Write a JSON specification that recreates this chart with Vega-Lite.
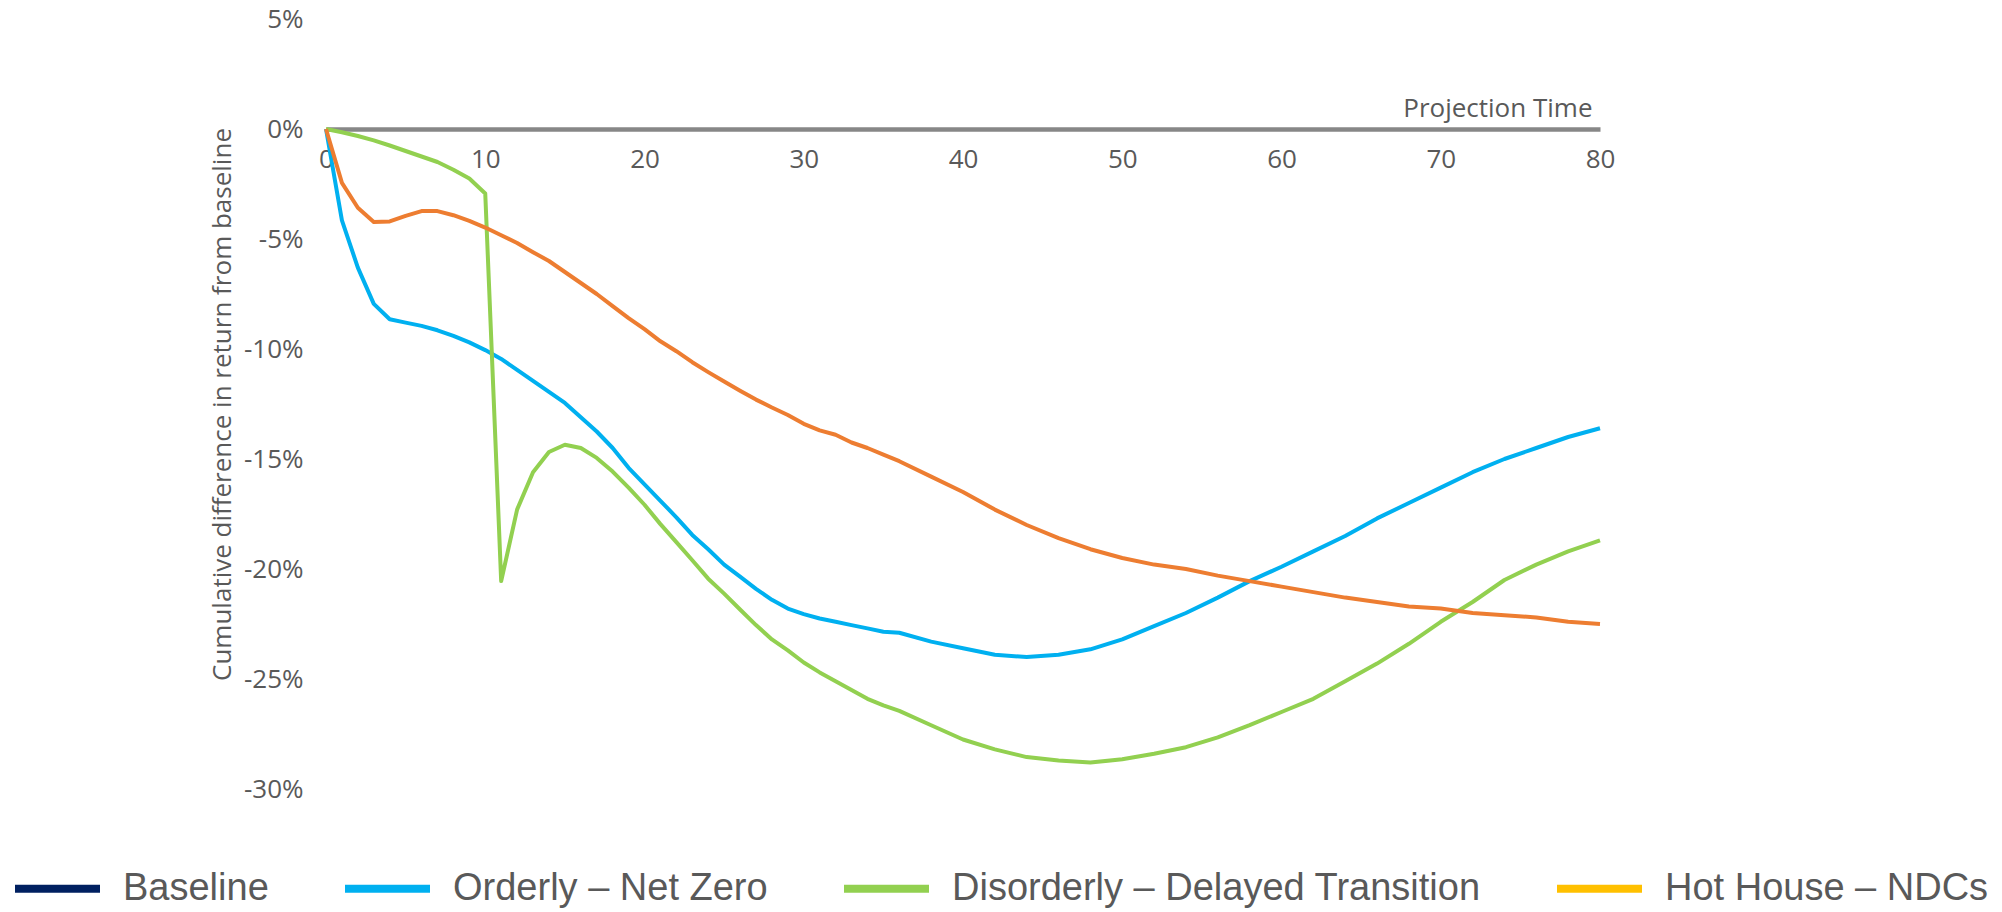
{
  "$schema": "https://vega.github.io/schema/vega-lite/v6.json",
  "width": 1274,
  "height": 770,
  "autosize": {"type": "none"},
  "padding": {"left": 326, "top": 19, "right": 402, "bottom": 123},
  "background": "#ffffff",
  "config": {
    "view": {"stroke": null},
    "font": "Open Sans",
    "axis": {"grid": false, "ticks": false, "labelColor": "#595959", "titleColor": "#595959", "labelFont": "Open Sans", "titleFont": "Open Sans", "labelFontSize": 26, "titleFontSize": 26, "titleFontWeight": "normal"}
  },
  "datasets": {
    "returns": [
      {"t": 0, "scenario": "Orderly – Net Zero", "value": 0},
      {"t": 1, "scenario": "Orderly – Net Zero", "value": -0.0415},
      {"t": 2, "scenario": "Orderly – Net Zero", "value": -0.063},
      {"t": 3, "scenario": "Orderly – Net Zero", "value": -0.0795},
      {"t": 4, "scenario": "Orderly – Net Zero", "value": -0.0865},
      {"t": 5, "scenario": "Orderly – Net Zero", "value": -0.088},
      {"t": 6, "scenario": "Orderly – Net Zero", "value": -0.0895},
      {"t": 7, "scenario": "Orderly – Net Zero", "value": -0.0915},
      {"t": 8, "scenario": "Orderly – Net Zero", "value": -0.094},
      {"t": 9, "scenario": "Orderly – Net Zero", "value": -0.097},
      {"t": 10, "scenario": "Orderly – Net Zero", "value": -0.1005},
      {"t": 11, "scenario": "Orderly – Net Zero", "value": -0.1045},
      {"t": 12, "scenario": "Orderly – Net Zero", "value": -0.1095},
      {"t": 13, "scenario": "Orderly – Net Zero", "value": -0.1145},
      {"t": 14, "scenario": "Orderly – Net Zero", "value": -0.1195},
      {"t": 15, "scenario": "Orderly – Net Zero", "value": -0.1245},
      {"t": 16, "scenario": "Orderly – Net Zero", "value": -0.131},
      {"t": 17, "scenario": "Orderly – Net Zero", "value": -0.1375},
      {"t": 18, "scenario": "Orderly – Net Zero", "value": -0.145},
      {"t": 19, "scenario": "Orderly – Net Zero", "value": -0.154},
      {"t": 20, "scenario": "Orderly – Net Zero", "value": -0.1615},
      {"t": 21, "scenario": "Orderly – Net Zero", "value": -0.169},
      {"t": 22, "scenario": "Orderly – Net Zero", "value": -0.1765},
      {"t": 23, "scenario": "Orderly – Net Zero", "value": -0.1845},
      {"t": 24, "scenario": "Orderly – Net Zero", "value": -0.191},
      {"t": 25, "scenario": "Orderly – Net Zero", "value": -0.198},
      {"t": 26, "scenario": "Orderly – Net Zero", "value": -0.2035},
      {"t": 27, "scenario": "Orderly – Net Zero", "value": -0.209},
      {"t": 28, "scenario": "Orderly – Net Zero", "value": -0.214},
      {"t": 29, "scenario": "Orderly – Net Zero", "value": -0.218},
      {"t": 30, "scenario": "Orderly – Net Zero", "value": -0.2205},
      {"t": 31, "scenario": "Orderly – Net Zero", "value": -0.2225},
      {"t": 32, "scenario": "Orderly – Net Zero", "value": -0.224},
      {"t": 33, "scenario": "Orderly – Net Zero", "value": -0.2255},
      {"t": 34, "scenario": "Orderly – Net Zero", "value": -0.227},
      {"t": 35, "scenario": "Orderly – Net Zero", "value": -0.2285},
      {"t": 36, "scenario": "Orderly – Net Zero", "value": -0.229},
      {"t": 38, "scenario": "Orderly – Net Zero", "value": -0.233},
      {"t": 40, "scenario": "Orderly – Net Zero", "value": -0.236},
      {"t": 42, "scenario": "Orderly – Net Zero", "value": -0.239},
      {"t": 44, "scenario": "Orderly – Net Zero", "value": -0.240},
      {"t": 46, "scenario": "Orderly – Net Zero", "value": -0.239},
      {"t": 48, "scenario": "Orderly – Net Zero", "value": -0.2365},
      {"t": 50, "scenario": "Orderly – Net Zero", "value": -0.232},
      {"t": 52, "scenario": "Orderly – Net Zero", "value": -0.226},
      {"t": 54, "scenario": "Orderly – Net Zero", "value": -0.220},
      {"t": 56, "scenario": "Orderly – Net Zero", "value": -0.213},
      {"t": 58, "scenario": "Orderly – Net Zero", "value": -0.2055},
      {"t": 60, "scenario": "Orderly – Net Zero", "value": -0.199},
      {"t": 62, "scenario": "Orderly – Net Zero", "value": -0.192},
      {"t": 64, "scenario": "Orderly – Net Zero", "value": -0.185},
      {"t": 66, "scenario": "Orderly – Net Zero", "value": -0.177},
      {"t": 68, "scenario": "Orderly – Net Zero", "value": -0.170},
      {"t": 70, "scenario": "Orderly – Net Zero", "value": -0.163},
      {"t": 72, "scenario": "Orderly – Net Zero", "value": -0.156},
      {"t": 74, "scenario": "Orderly – Net Zero", "value": -0.150},
      {"t": 76, "scenario": "Orderly – Net Zero", "value": -0.145},
      {"t": 78, "scenario": "Orderly – Net Zero", "value": -0.140},
      {"t": 80, "scenario": "Orderly – Net Zero", "value": -0.136},

      {"t": 0, "scenario": "Disorderly – Delayed Transition", "value": 0},
      {"t": 1, "scenario": "Disorderly – Delayed Transition", "value": -0.0015},
      {"t": 2, "scenario": "Disorderly – Delayed Transition", "value": -0.0032},
      {"t": 3, "scenario": "Disorderly – Delayed Transition", "value": -0.0052},
      {"t": 4, "scenario": "Disorderly – Delayed Transition", "value": -0.0075},
      {"t": 5, "scenario": "Disorderly – Delayed Transition", "value": -0.010},
      {"t": 6, "scenario": "Disorderly – Delayed Transition", "value": -0.0125},
      {"t": 7, "scenario": "Disorderly – Delayed Transition", "value": -0.015},
      {"t": 8, "scenario": "Disorderly – Delayed Transition", "value": -0.0185},
      {"t": 9, "scenario": "Disorderly – Delayed Transition", "value": -0.0225},
      {"t": 10, "scenario": "Disorderly – Delayed Transition", "value": -0.0293},
      {"t": 11, "scenario": "Disorderly – Delayed Transition", "value": -0.2055},
      {"t": 12, "scenario": "Disorderly – Delayed Transition", "value": -0.173},
      {"t": 13, "scenario": "Disorderly – Delayed Transition", "value": -0.156},
      {"t": 14, "scenario": "Disorderly – Delayed Transition", "value": -0.1468},
      {"t": 15, "scenario": "Disorderly – Delayed Transition", "value": -0.1435},
      {"t": 16, "scenario": "Disorderly – Delayed Transition", "value": -0.145},
      {"t": 17, "scenario": "Disorderly – Delayed Transition", "value": -0.1495},
      {"t": 18, "scenario": "Disorderly – Delayed Transition", "value": -0.1557},
      {"t": 19, "scenario": "Disorderly – Delayed Transition", "value": -0.163},
      {"t": 20, "scenario": "Disorderly – Delayed Transition", "value": -0.1708},
      {"t": 21, "scenario": "Disorderly – Delayed Transition", "value": -0.1796},
      {"t": 22, "scenario": "Disorderly – Delayed Transition", "value": -0.1878},
      {"t": 23, "scenario": "Disorderly – Delayed Transition", "value": -0.196},
      {"t": 24, "scenario": "Disorderly – Delayed Transition", "value": -0.2044},
      {"t": 25, "scenario": "Disorderly – Delayed Transition", "value": -0.2112},
      {"t": 26, "scenario": "Disorderly – Delayed Transition", "value": -0.2184},
      {"t": 27, "scenario": "Disorderly – Delayed Transition", "value": -0.2255},
      {"t": 28, "scenario": "Disorderly – Delayed Transition", "value": -0.232},
      {"t": 29, "scenario": "Disorderly – Delayed Transition", "value": -0.237},
      {"t": 30, "scenario": "Disorderly – Delayed Transition", "value": -0.2425},
      {"t": 31, "scenario": "Disorderly – Delayed Transition", "value": -0.247},
      {"t": 32, "scenario": "Disorderly – Delayed Transition", "value": -0.251},
      {"t": 33, "scenario": "Disorderly – Delayed Transition", "value": -0.255},
      {"t": 34, "scenario": "Disorderly – Delayed Transition", "value": -0.259},
      {"t": 35, "scenario": "Disorderly – Delayed Transition", "value": -0.262},
      {"t": 36, "scenario": "Disorderly – Delayed Transition", "value": -0.2645},
      {"t": 38, "scenario": "Disorderly – Delayed Transition", "value": -0.271},
      {"t": 40, "scenario": "Disorderly – Delayed Transition", "value": -0.2775},
      {"t": 42, "scenario": "Disorderly – Delayed Transition", "value": -0.282},
      {"t": 44, "scenario": "Disorderly – Delayed Transition", "value": -0.2855},
      {"t": 46, "scenario": "Disorderly – Delayed Transition", "value": -0.287},
      {"t": 48, "scenario": "Disorderly – Delayed Transition", "value": -0.288},
      {"t": 50, "scenario": "Disorderly – Delayed Transition", "value": -0.2865},
      {"t": 52, "scenario": "Disorderly – Delayed Transition", "value": -0.284},
      {"t": 54, "scenario": "Disorderly – Delayed Transition", "value": -0.281},
      {"t": 56, "scenario": "Disorderly – Delayed Transition", "value": -0.2765},
      {"t": 58, "scenario": "Disorderly – Delayed Transition", "value": -0.271},
      {"t": 60, "scenario": "Disorderly – Delayed Transition", "value": -0.265},
      {"t": 62, "scenario": "Disorderly – Delayed Transition", "value": -0.259},
      {"t": 64, "scenario": "Disorderly – Delayed Transition", "value": -0.251},
      {"t": 66, "scenario": "Disorderly – Delayed Transition", "value": -0.243},
      {"t": 68, "scenario": "Disorderly – Delayed Transition", "value": -0.234},
      {"t": 70, "scenario": "Disorderly – Delayed Transition", "value": -0.224},
      {"t": 72, "scenario": "Disorderly – Delayed Transition", "value": -0.215},
      {"t": 74, "scenario": "Disorderly – Delayed Transition", "value": -0.205},
      {"t": 76, "scenario": "Disorderly – Delayed Transition", "value": -0.198},
      {"t": 78, "scenario": "Disorderly – Delayed Transition", "value": -0.192},
      {"t": 80, "scenario": "Disorderly – Delayed Transition", "value": -0.187},

      {"t": 0, "scenario": "Hot House – NDCs", "value": 0},
      {"t": 1, "scenario": "Hot House – NDCs", "value": -0.0245},
      {"t": 2, "scenario": "Hot House – NDCs", "value": -0.0358},
      {"t": 3, "scenario": "Hot House – NDCs", "value": -0.0423},
      {"t": 4, "scenario": "Hot House – NDCs", "value": -0.042},
      {"t": 5, "scenario": "Hot House – NDCs", "value": -0.0395},
      {"t": 6, "scenario": "Hot House – NDCs", "value": -0.0373},
      {"t": 7, "scenario": "Hot House – NDCs", "value": -0.0373},
      {"t": 8, "scenario": "Hot House – NDCs", "value": -0.0392},
      {"t": 9, "scenario": "Hot House – NDCs", "value": -0.0418},
      {"t": 10, "scenario": "Hot House – NDCs", "value": -0.0448},
      {"t": 11, "scenario": "Hot House – NDCs", "value": -0.0483},
      {"t": 12, "scenario": "Hot House – NDCs", "value": -0.0518},
      {"t": 13, "scenario": "Hot House – NDCs", "value": -0.056},
      {"t": 14, "scenario": "Hot House – NDCs", "value": -0.060},
      {"t": 15, "scenario": "Hot House – NDCs", "value": -0.065},
      {"t": 16, "scenario": "Hot House – NDCs", "value": -0.070},
      {"t": 17, "scenario": "Hot House – NDCs", "value": -0.075},
      {"t": 18, "scenario": "Hot House – NDCs", "value": -0.0805},
      {"t": 19, "scenario": "Hot House – NDCs", "value": -0.086},
      {"t": 20, "scenario": "Hot House – NDCs", "value": -0.091},
      {"t": 21, "scenario": "Hot House – NDCs", "value": -0.0965},
      {"t": 22, "scenario": "Hot House – NDCs", "value": -0.101},
      {"t": 23, "scenario": "Hot House – NDCs", "value": -0.106},
      {"t": 24, "scenario": "Hot House – NDCs", "value": -0.1105},
      {"t": 25, "scenario": "Hot House – NDCs", "value": -0.1148},
      {"t": 26, "scenario": "Hot House – NDCs", "value": -0.119},
      {"t": 27, "scenario": "Hot House – NDCs", "value": -0.123},
      {"t": 28, "scenario": "Hot House – NDCs", "value": -0.1266},
      {"t": 29, "scenario": "Hot House – NDCs", "value": -0.130},
      {"t": 30, "scenario": "Hot House – NDCs", "value": -0.134},
      {"t": 31, "scenario": "Hot House – NDCs", "value": -0.137},
      {"t": 32, "scenario": "Hot House – NDCs", "value": -0.139},
      {"t": 33, "scenario": "Hot House – NDCs", "value": -0.1425},
      {"t": 34, "scenario": "Hot House – NDCs", "value": -0.145},
      {"t": 35, "scenario": "Hot House – NDCs", "value": -0.148},
      {"t": 36, "scenario": "Hot House – NDCs", "value": -0.151},
      {"t": 38, "scenario": "Hot House – NDCs", "value": -0.158},
      {"t": 40, "scenario": "Hot House – NDCs", "value": -0.165},
      {"t": 42, "scenario": "Hot House – NDCs", "value": -0.173},
      {"t": 44, "scenario": "Hot House – NDCs", "value": -0.180},
      {"t": 46, "scenario": "Hot House – NDCs", "value": -0.186},
      {"t": 48, "scenario": "Hot House – NDCs", "value": -0.191},
      {"t": 50, "scenario": "Hot House – NDCs", "value": -0.195},
      {"t": 52, "scenario": "Hot House – NDCs", "value": -0.198},
      {"t": 54, "scenario": "Hot House – NDCs", "value": -0.200},
      {"t": 56, "scenario": "Hot House – NDCs", "value": -0.203},
      {"t": 58, "scenario": "Hot House – NDCs", "value": -0.2055},
      {"t": 60, "scenario": "Hot House – NDCs", "value": -0.208},
      {"t": 62, "scenario": "Hot House – NDCs", "value": -0.2105},
      {"t": 64, "scenario": "Hot House – NDCs", "value": -0.213},
      {"t": 66, "scenario": "Hot House – NDCs", "value": -0.215},
      {"t": 68, "scenario": "Hot House – NDCs", "value": -0.217},
      {"t": 70, "scenario": "Hot House – NDCs", "value": -0.218},
      {"t": 72, "scenario": "Hot House – NDCs", "value": -0.220},
      {"t": 74, "scenario": "Hot House – NDCs", "value": -0.221},
      {"t": 76, "scenario": "Hot House – NDCs", "value": -0.222},
      {"t": 78, "scenario": "Hot House – NDCs", "value": -0.224},
      {"t": 80, "scenario": "Hot House – NDCs", "value": -0.225}
    ]
  },
  "data": {"name": "returns"},
  "encoding": {
    "x": {
      "field": "t",
      "type": "quantitative",
      "scale": {"domain": [0, 80], "nice": false, "zero": false},
      "axis": {
        "orient": "bottom",
        "offset": -660,
        "values": [0, 10, 20, 30, 40, 50, 60, 70, 80],
        "format": "d",
        "labelFlush": false,
        "labelPadding": 17,
        "domainColor": "#878787",
        "domainWidth": 4.5,
        "title": "Projection Time",
        "titleAnchor": "end",
        "titleAlign": "right",
        "titleBaseline": "alphabetic",
        "titleX": 1266,
        "titleY": -13
      }
    },
    "y": {
      "field": "value",
      "type": "quantitative",
      "scale": {"domain": [-0.3, 0.05], "nice": false, "zero": false},
      "axis": {
        "values": [0.05, 0, -0.05, -0.1, -0.15, -0.2, -0.25, -0.3],
        "labelExpr": "round(datum.value * 100) + '%'",
        "domain": false,
        "labelPadding": 23,
        "title": "Cumulative difference in return from baseline",
        "titlePadding": 8
      }
    }
  },
  "layer": [
    {
      "mark": {"type": "line", "strokeWidth": 4, "strokeJoin": "round"},
      "encoding": {
        "color": {
          "field": "scenario",
          "type": "nominal",
          "scale": {
            "domain": ["Orderly – Net Zero", "Disorderly – Delayed Transition", "Hot House – NDCs"],
            "range": ["#00B0F0", "#92D050", "#ED7D31"]
          },
          "legend": null
        }
      }
    },
    {
      "mark": {"type": "line", "opacity": 0},
      "encoding": {
        "color": {
          "field": "scenario",
          "type": "nominal",
          "scale": {
            "domain": ["Baseline", "Orderly – Net Zero", "Disorderly – Delayed Transition", "Hot House – NDCs"],
            "range": ["#002060", "#00B0F0", "#92D050", "#FFC000"]
          },
          "legend": {
            "title": null,
            "orient": "none",
            "direction": "horizontal",
            "legendX": -315,
            "legendY": 823,
            "symbolType": "stroke",
            "symbolSize": 7225,
            "symbolStrokeWidth": 8,
            "symbolOpacity": 1,
            "labelFont": "Liberation Sans",
            "labelFontSize": 38,
            "labelColor": "#595959",
            "labelOffset": 19,
            "labelLimit": 900,
            "columnPadding": 60
          }
        }
      }
    }
  ],
  "resolve": {"scale": {"color": "independent"}}
}
